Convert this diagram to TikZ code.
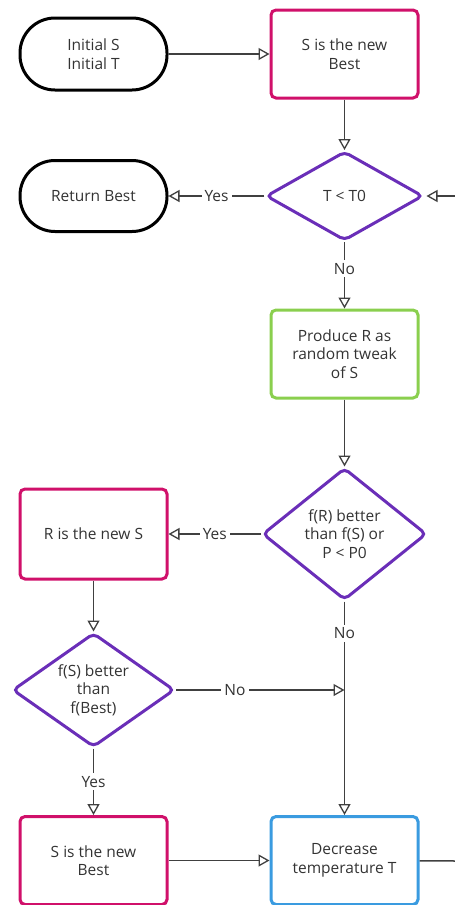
\documentclass[tikz,border=0pt]{standalone}
\usepackage{fontspec}
\setmainfont{Open Sans}
\usetikzlibrary{shapes.geometric,arrows.meta}
\definecolor{ink}{HTML}{333333}
\definecolor{wire}{HTML}{404040}
\definecolor{cpink}{HTML}{D0106A}
\definecolor{cpurple}{HTML}{6A2EB8}
\definecolor{cgreen}{HTML}{8ACF4E}
\definecolor{cblue}{HTML}{3A9BE0}
\begin{document}
\begin{tikzpicture}[x=1pt,y=-1pt,
  font=\fontsize{15.5}{18.5}\selectfont, text=ink,
  box/.style={draw, rectangle, line width=3pt, rounded corners=5pt,
    minimum width=147pt, minimum height=88pt, align=center, inner sep=2pt},
  term/.style={draw=black, rectangle, line width=3pt, rounded corners=35pt,
    minimum width=147pt, minimum height=72pt, align=center},
  dia/.style={draw=cpurple, diamond, line width=3pt, rounded corners=5pt,
    inner sep=0pt, align=center},
  conn/.style={draw=wire, line width=1.5pt,
    -{Triangle[open, length=11pt, width=12pt, line width=1.3pt]}},
  plain/.style={draw=wire, line width=1.5pt},
  tag/.style={fill=white, inner sep=3pt, text=ink}]
\useasboundingbox (0,0) rectangle (455,905);

% nodes
\node[term] (init) at (93.5,54) {Initial S\\Initial T};
\node[box, draw=cpink] (best1) at (344.5,54) {S is the new\\Best};
\node[dia, minimum width=157pt, minimum height=89pt,
  label={[align=center]center:T < T0}] (cool) at (344.5,196) {};
\node[term, minimum height=71pt] (ret) at (93.5,196) {Return Best};
\node[box, draw=cgreen] (tweak) at (344.5,354) {Produce R as\\random tweak\\of S};
\node[dia, minimum width=164pt, minimum height=132pt,
  label={[align=center]center:f(R) better\\than f(S) or\\P < P0}] (accept) at (344.5,534) {};
\node[box, draw=cpink, minimum height=90pt] (newS) at (93.5,534) {R is the new S};
\node[dia, minimum width=162pt, minimum height=114pt,
  label={[align=center]center:f(S) better\\than\\f(Best)}] (improve) at (93.5,690) {};
\node[box, draw=cpink] (best2) at (93.5,860.5) {S is the new\\Best};
\node[box, draw=cblue] (dec) at (344.5,860.5) {Decrease\\temperature T};

% loop ends leaving the frame on the right
\coordinate (loopin) at (456,196);
\coordinate (loopout) at (456,861);
\coordinate (merge) at (344.5,690);

% connectors
\draw[conn] (init) -- (best1);
\draw[conn] (best1) -- (cool);
\draw[conn] (cool) -- node[tag] {Yes} (ret);
\draw[conn, shorten >=2pt] (loopin) -- (cool.east);
\draw[conn] (cool) -- node[tag, pos=0.4] {No} (tweak);
\draw[conn] (tweak) -- (accept);
\draw[conn] (accept) -- node[tag] {Yes} (newS);
\draw[conn] (newS) -- (improve);
\draw[conn] (accept) -- node[tag, pos=0.15] {No} (dec);
\draw[conn] (improve.east) -- node[tag, pos=0.35] {No} (merge);
\draw[conn] (improve) -- node[tag] {Yes} (best2);
\draw[conn] (best2) -- (dec);
\draw[plain] (dec) -- (loopout);
\end{tikzpicture}
\end{document}
